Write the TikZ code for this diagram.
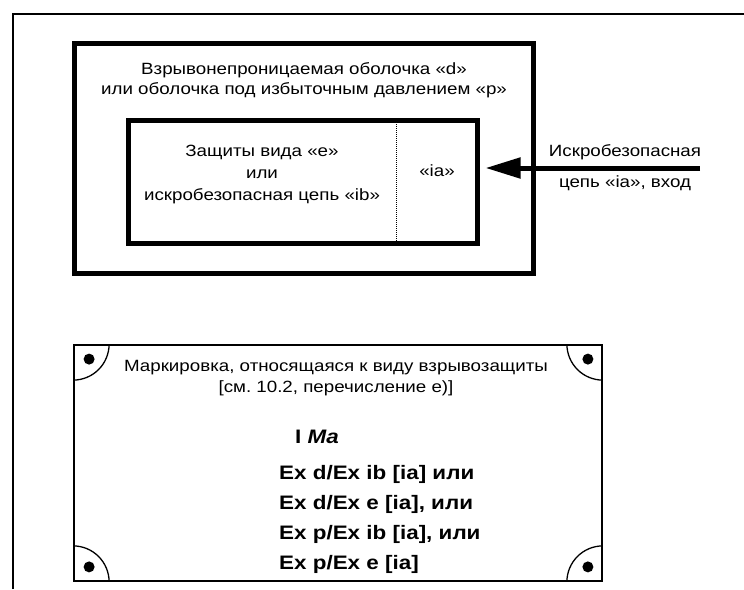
\documentclass[tikz,border=0pt]{standalone}
\usepackage{fontspec}
\setmainfont{Liberation Sans}[FakeStretch=1.15]
\usetikzlibrary{arrows.meta}
\frenchspacing
\tikzset{
  frameline/.style={line width=2.3pt},
  thickbox/.style={draw, line width=5pt, inner sep=0pt},
  thinbox/.style={draw, line width=1.8pt, inner sep=0pt},
  txt/.style={inner sep=0pt, align=center, font=\fontsize{16.3}{20}\selectfont},
  innertxt/.style={inner sep=0pt, align=center, font=\fontsize{16.3}{22}\selectfont},
  boldtxt/.style={inner sep=0pt, anchor=west, font=\fontsize{19.5}{20}\selectfont\bfseries},
  dotmark/.style={fill=black},
}
\begin{document}
\begin{tikzpicture}[x=1pt,y=-1pt]
\useasboundingbox (0,0) rectangle (744,589);
% page frame
\coordinate (fbl) at (13,589);
\coordinate (ftl) at (13,14);
\coordinate (ftr) at (744,14);
\draw[frameline] (fbl) -- (ftl) -- (ftr);
% outer enclosure
\node[thickbox, minimum width=459pt, minimum height=230pt] (outer) at (303.5,158) {};
\node[txt] (outertext) at (304,80) {Взрывонепроницаемая оболочка «d»\\или оболочка под избыточным давлением «p»};
% inner box
\node[thickbox, minimum width=349pt, minimum height=123pt] (inner) at (302.5,181.5) {};
\coordinate (divtop) at (396,120);
\coordinate (divbot) at (396,243);
\draw[densely dotted, line width=1pt] (divtop) -- (divbot);
\node[innertxt] (innertext) at (262,175) {Защиты вида «е»\\или\\искробезопасная цепь «ib»};
\node[txt] (ia) at (437,171) {«ia»};
% arrow
\coordinate (src) at (700,168);
\draw[line width=5pt, -{Triangle[length=35pt,width=20pt]}] (src) -- ([xshift=6pt]inner.east |- src);
\node[txt] (labtop) at (625,152) {Искробезопасная};
\node[txt] (labbot) at (625,183) {цепь «ia», вход};
% marking plate
\node[thinbox, minimum width=528pt, minimum height=236pt] (plate) at (338,463) {};
\draw[line width=1.3pt] ([xshift=36pt]plate.north west) arc[start angle=0, end angle=-90, radius=36pt];
\draw[line width=1.3pt] ([xshift=-36pt]plate.north east) arc[start angle=180, end angle=270, radius=36pt];
\draw[line width=1.3pt] ([xshift=36pt]plate.south west) arc[start angle=0, end angle=90, radius=36pt];
\draw[line width=1.3pt] ([xshift=-36pt]plate.south east) arc[start angle=180, end angle=90, radius=36pt];
\fill[dotmark] ([shift={(16pt,-15pt)}]plate.north west) circle[radius=5.5pt];
\fill[dotmark] ([shift={(-15pt,-15pt)}]plate.north east) circle[radius=5.5pt];
\fill[dotmark] ([shift={(16pt,15pt)}]plate.south west) circle[radius=5.5pt];
\fill[dotmark] ([shift={(-15pt,15pt)}]plate.south east) circle[radius=5.5pt];
\node[txt] (mark1) at (336,378) {Маркировка, относящаяся к виду взрывозащиты\\[1pt][см. 10.2, перечисление е)]};
\node[boldtxt] (ima) at (295,437) {I \textit{Ma}};
\node[boldtxt] (ex1) at (279,474) {Ex d/Ex ib [ia] или};
\node[boldtxt] (ex2) at (279,504) {Ex d/Ex e [ia], или};
\node[boldtxt] (ex3) at (279,534) {Ex p/Ex ib [ia], или};
\node[boldtxt] (ex4) at (279,564) {Ex p/Ex e [ia]};
\end{tikzpicture}
\end{document}
